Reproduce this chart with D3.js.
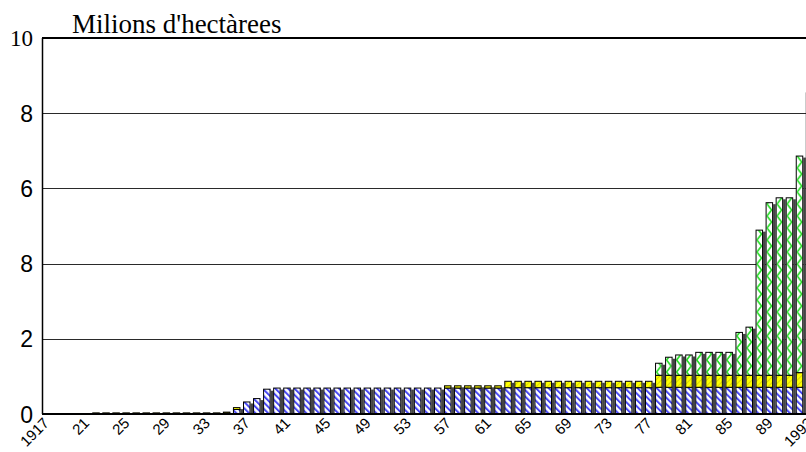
<!DOCTYPE html>
<html>
<head>
<meta charset="utf-8">
<script src="https://cdn.jsdelivr.net/npm/d3@7"></script>
<style>
  html, body { margin: 0; padding: 0; background: #fff; }
  svg { display: block; }
</style>
</head>
<body>
<div id="chart"></div>
<script>
// Years shown on the x axis
var years = d3.range(1917, 1994);

// Series values (millions of hectares)
var blueValues = [
  0, 0, 0, 0, 0, 0, 0, 0, 0, 0, 0, 0, 0, 0, 0, 0, 0, 0,          // 1917-1934
  0.02, 0.12, 0.32, 0.41, 0.66,                                    // 1935-1939
  0.69, 0.69, 0.69, 0.69, 0.69, 0.69, 0.69, 0.69, 0.69, 0.69,      // 1940-1949
  0.69, 0.69, 0.69, 0.69, 0.69, 0.69, 0.69,                        // 1950-1956
  0.69, 0.69, 0.69, 0.69, 0.69, 0.69,                              // 1957-1962
  0.70, 0.70, 0.70, 0.70, 0.70, 0.70, 0.70, 0.70, 0.70, 0.70,      // 1963-1972
  0.70, 0.70, 0.70, 0.70, 0.70,                                    // 1973-1977
  0.71, 0.71, 0.71, 0.71, 0.71, 0.71, 0.71, 0.71,                  // 1978-1985
  0.71, 0.71, 0.71, 0.71, 0.71, 0.71, 0.71, 0.71                   // 1986-1993
];
var yellowValues = [
  0, 0, 0, 0, 0,                                                   // 1917-1921
  0.03, 0.03, 0.03, 0.03, 0.03, 0.03, 0.03, 0.03, 0.03, 0.03,      // 1922-1931
  0.03, 0.03, 0.03,                                                // 1932-1934
  0.03, 0.05, 0, 0, 0,                                             // 1935-1939
  0, 0, 0, 0, 0, 0, 0, 0, 0, 0,                                    // 1940-1949
  0, 0, 0, 0, 0, 0, 0,                                             // 1950-1956
  0.06, 0.06, 0.06, 0.06, 0.06, 0.06,                              // 1957-1962
  0.17, 0.17, 0.17, 0.17, 0.17, 0.17, 0.17, 0.17, 0.17, 0.17,      // 1963-1972
  0.17, 0.17, 0.17, 0.17, 0.17,                                    // 1973-1977
  0.32, 0.32, 0.32, 0.32, 0.32, 0.32, 0.32, 0.32,                  // 1978-1985
  0.32, 0.32, 0.32, 0.32, 0.32, 0.32, 0.39, 0.42                   // 1986-1993
];
var greenValues = [
  0, 0, 0, 0, 0, 0, 0, 0, 0, 0, 0, 0, 0, 0, 0, 0, 0, 0,          // 1917-1934
  0, 0, 0, 0, 0,                                                   // 1935-1939
  0, 0, 0, 0, 0, 0, 0, 0, 0, 0,                                    // 1940-1949
  0, 0, 0, 0, 0, 0, 0,                                             // 1950-1956
  0, 0, 0, 0, 0, 0,                                                // 1957-1962
  0, 0, 0, 0, 0, 0, 0, 0, 0, 0,                                    // 1963-1972
  0, 0, 0, 0, 0,                                                   // 1973-1977
  0.32, 0.48, 0.54, 0.54, 0.61, 0.61, 0.61, 0.61,                  // 1978-1985
  1.14, 1.28, 3.86, 4.59, 4.72, 4.72, 5.76, 7.41                   // 1986-1993
];

var xTickYears = d3.range(1917, 1994, 4);
var xTickLabels = ['1917', '21', '25', '29', '33', '37', '41', '45', '49', '53',
  '57', '61', '65', '69', '73', '77', '81', '85', '89', '1993'];
var yTickValues = [0, 2, 4, 6, 8, 10];
var yTickLabels = ['0', '2', '8', '6', '8', '10'];
var titleText = "Milions d'hectàrees";

var width = 806, height = 452;
var left = 42, step = 10.05;

var rows = years.map(function(yr, i) {
  return { year: yr, blue: blueValues[i], yellow: yellowValues[i], green: greenValues[i] };
});

var svg = d3.select('#chart').append('svg')
  .attr('width', width)
  .attr('height', height);

var x = d3.scaleBand()
  .domain(years)
  .range([left, left + step * years.length])
  .padding(0);

var y = d3.scaleLinear()
  .domain([0, 10])
  .range([414, 38]);

// Fill patterns
var defs = svg.append('defs');

var pBlue = defs.append('pattern')
  .attr('id', 'pat-blue')
  .attr('patternUnits', 'userSpaceOnUse')
  .attr('width', 4.5).attr('height', 4.5)
  .attr('patternTransform', 'rotate(-45)');
pBlue.append('rect').attr('width', 4.5).attr('height', 4.5).attr('fill', '#ffffff');
pBlue.append('rect').attr('width', 2).attr('height', 4.5).attr('fill', '#4646f4');

var pYellow = defs.append('pattern')
  .attr('id', 'pat-yellow')
  .attr('patternUnits', 'userSpaceOnUse')
  .attr('width', 4).attr('height', 4)
  .attr('patternTransform', 'rotate(45)');
pYellow.append('rect').attr('width', 4).attr('height', 4).attr('fill', '#ffff00');
pYellow.append('rect').attr('width', 1).attr('height', 4).attr('fill', '#d6d60a');

var pGreen = defs.append('pattern')
  .attr('id', 'pat-green')
  .attr('patternUnits', 'userSpaceOnUse')
  .attr('x', left).attr('y', 0)
  .attr('width', step).attr('height', 12);
pGreen.append('rect').attr('width', step).attr('height', 12).attr('fill', '#ffffff');
pGreen.append('path')
  .attr('d', 'M1.5,0 L6,6 L1.5,12')
  .attr('fill', 'none')
  .attr('stroke', '#22dd22')
  .attr('stroke-width', 1.6);

// Horizontal grid lines
svg.append('g').selectAll('line')
  .data(yTickValues.filter(function(v) { return v > 0 && v < 10; }))
  .enter().append('line')
  .attr('x1', left).attr('x2', width)
  .attr('y1', function(d) { return Math.round(y(d)) + 0.5; })
  .attr('y2', function(d) { return Math.round(y(d)) + 0.5; })
  .attr('stroke', '#2a2a2a')
  .attr('stroke-width', 1.2);

// Top frame line at 10
svg.append('line')
  .attr('x1', left).attr('x2', width)
  .attr('y1', y(10)).attr('y2', y(10))
  .attr('stroke', '#000').attr('stroke-width', 2);

// Stacked bars
var keys = ['blue', 'yellow', 'green'];
var fills = { blue: 'url(#pat-blue)', yellow: 'url(#pat-yellow)', green: 'url(#pat-green)' };
var stacked = d3.stack().keys(keys)(rows);
var barW = 7.5;

// depth shadow on the right of each bar
svg.append('g').selectAll('rect')
  .data(rows.filter(function(d) { return d.blue + d.yellow + d.green > 0; }))
  .enter().append('rect')
  .attr('x', function(d) { return x(d.year) + barW; })
  .attr('y', function(d) { return y(d.blue + d.yellow + d.green) + 1.5; })
  .attr('width', step - barW)
  .attr('height', function(d) { return Math.max(0, y(0) - y(d.blue + d.yellow + d.green) - 1.5); })
  .attr('fill', '#444');

svg.append('g').selectAll('g')
  .data(stacked)
  .enter().append('g')
  .attr('fill', function(s) { return fills[s.key]; })
  .selectAll('rect')
  .data(function(s) { return s.filter(function(d) { return d[1] - d[0] > 0; }); })
  .enter().append('rect')
  .attr('x', function(d) { return x(d.data.year) + 0.5; })
  .attr('y', function(d) { return y(d[1]); })
  .attr('width', barW - 1)
  .attr('height', function(d) { return y(d[0]) - y(d[1]); })
  .attr('stroke', '#000')
  .attr('stroke-width', 1);

// Axis lines
svg.append('line')
  .attr('x1', left + 0.5).attr('x2', left + 0.5)
  .attr('y1', y(10)).attr('y2', y(0))
  .attr('stroke', '#000').attr('stroke-width', 1.5);
svg.append('line')
  .attr('x1', left).attr('x2', width)
  .attr('y1', y(0)).attr('y2', y(0))
  .attr('stroke', '#000').attr('stroke-width', 2);

// Y tick labels
svg.append('g').selectAll('text')
  .data(yTickValues)
  .enter().append('text')
  .attr('x', 33)
  .attr('y', function(d) { return d === 10 ? y(d) + 7.5 : y(d) + 8.5; })
  .attr('text-anchor', 'end')
  .style('font-family', function(d) { return d === 10 ? '"Liberation Serif", "Times New Roman", serif' : '"Liberation Sans", Arial, sans-serif'; })
  .style('font-size', '23px')
  .style('fill', '#000')
  .text(function(d, i) { return yTickLabels[i]; });

// X tick labels, rotated
svg.append('g').selectAll('text')
  .data(xTickYears)
  .enter().append('text')
  .attr('transform', function(d) { return 'translate(' + (x(d) + 8) + ',424) rotate(-45)'; })
  .attr('text-anchor', 'end')
  .style('font-family', '"Liberation Sans", Arial, sans-serif')
  .style('font-size', '15px')
  .style('fill', '#000')
  .text(function(d, i) { return xTickLabels[i]; });

// Title
svg.append('text')
  .attr('x', 72)
  .attr('y', 33)
  .style('font-family', '"Liberation Serif", "Times New Roman", serif')
  .style('font-size', '27px')
  .style('fill', '#000')
  .text(titleText);
</script>
</body>
</html>
